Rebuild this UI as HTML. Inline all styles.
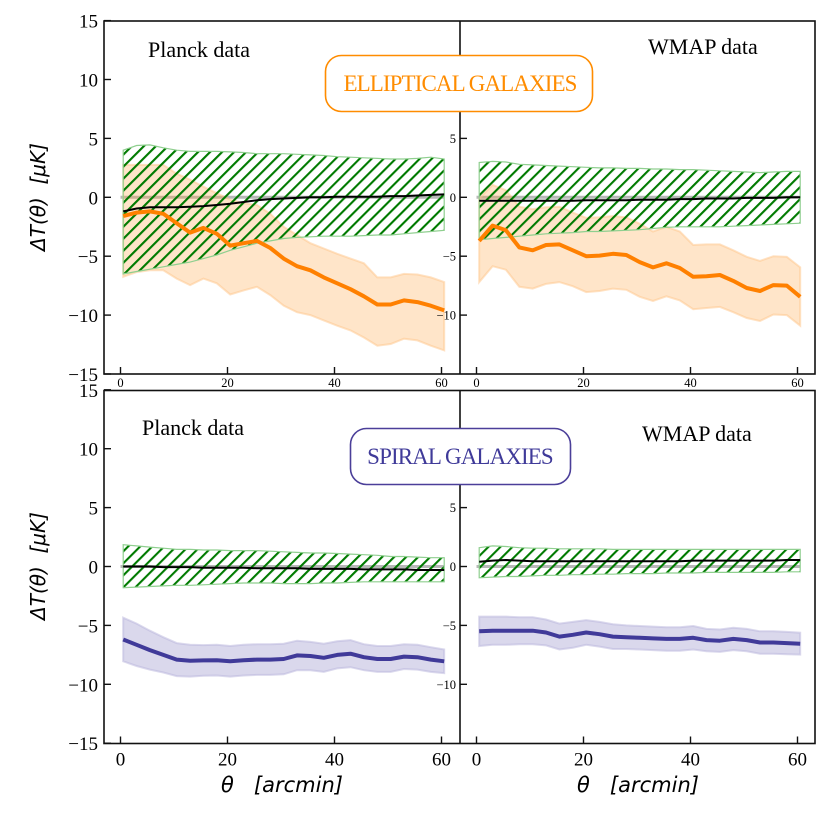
<!DOCTYPE html>
<html><head><meta charset="utf-8"><style>
html,body{margin:0;padding:0;background:#fff;}
svg{display:block;}
.serif{font-family:"Liberation Serif","DejaVu Serif",serif;}
.sans{font-family:"DejaVu Sans","Liberation Sans",sans-serif;}
</style></head><body>
<svg id="chart" width="830" height="830" viewBox="0 0 830 830" xmlns="http://www.w3.org/2000/svg">
<defs>
<pattern id="hatch" patternUnits="userSpaceOnUse" width="8.5" height="8.5" patternTransform="rotate(45)">
<line x1="1" y1="0" x2="1" y2="8.5" stroke="#007a00" stroke-width="2.2"/>
</pattern>
</defs>
<g id="plots"></g>
<rect x="104" y="21" width="711" height="353" fill="none" stroke="#111" stroke-width="1.6"/>
<rect x="104" y="390.5" width="711" height="353" fill="none" stroke="#111" stroke-width="1.6"/>
<line x1="460" y1="21" x2="460" y2="374" stroke="#111" stroke-width="1.6"/>
<line x1="460" y1="390.5" x2="460" y2="743.5" stroke="#111" stroke-width="1.6"/>
<g id="axes"></g>
<text x="148" y="57" class="serif" font-size="22">Planck data</text>
<text x="648" y="54" class="serif" font-size="22">WMAP data</text>
<text x="142" y="435" class="serif" font-size="22">Planck data</text>
<text x="642" y="441" class="serif" font-size="22">WMAP data</text>
<rect x="325.5" y="55.5" width="267" height="56" rx="16" fill="#fff" stroke="#ff8c00" stroke-width="1.6"/>
<text x="460" y="91" text-anchor="middle" class="serif" font-size="23" fill="#ff8c00" letter-spacing="-0.9">ELLIPTICAL GALAXIES</text>
<rect x="350.5" y="428.5" width="220" height="56" rx="16" fill="#fff" stroke="#4b3f99" stroke-width="1.6"/>
<text x="460" y="464" text-anchor="middle" class="serif" font-size="23" fill="#3f3a99" letter-spacing="-0.9">SPIRAL GALAXIES</text>
<text transform="translate(45,197) rotate(-90)" text-anchor="middle" class="sans" font-size="20" font-style="italic">ΔT(θ)&#160;&#160;[μK]</text>
<text transform="translate(45,566) rotate(-90)" text-anchor="middle" class="sans" font-size="20" font-style="italic">ΔT(θ)&#160;&#160;[μK]</text>
<text x="282" y="792" text-anchor="middle" class="sans" font-size="21" font-style="italic">θ&#160;&#160;&#160;[arcmin]</text>
<text x="638" y="792" text-anchor="middle" class="sans" font-size="21" font-style="italic">θ&#160;&#160;&#160;[arcmin]</text>
</svg>
<script>
const thetaIdx = [0,1,2,3,4,5,6,7,8,9,10,11,12,13,14,15,16,17,18,19,20,21,22,23,24];
const thetaStep = 2.5, thetaStart = 0.5;
const tlOrange = [-1.6,-1.3,-1.2,-1.4,-2.2,-3.0,-2.6,-3.1,-4.1,-3.9,-3.7,-4.3,-5.2,-5.85,-6.2,-6.8,-7.3,-7.8,-8.4,-9.1,-9.1,-8.75,-8.9,-9.2,-9.6];
const tlOrangeUp = [2.75,2.75,2.75,2.75,2.0,1.5,0.9,0.35,-0.2,-0.5,-0.65,-1.4,-2.5,-3.2,-3.9,-4.35,-4.8,-5.2,-5.6,-6.8,-6.8,-6.5,-6.55,-6.8,-7.2];
const tlOrangeLo = [-6.75,-6.35,-6.2,-6.2,-6.9,-7.45,-6.9,-7.3,-8.25,-7.9,-7.6,-8.3,-9.2,-9.75,-10.0,-10.45,-10.9,-11.3,-11.9,-12.6,-12.45,-12.0,-12.15,-12.6,-13.0];
const tlGreenUp = [4.0,4.4,4.45,4.2,4.0,3.9,3.9,3.9,3.85,3.8,3.7,3.7,3.7,3.65,3.6,3.55,3.45,3.4,3.35,3.3,3.25,3.25,3.3,3.4,3.25];
const tlGreenLo = [-6.5,-6.3,-6.1,-5.9,-5.7,-5.5,-5.2,-4.9,-4.5,-4.2,-3.9,-3.7,-3.5,-3.4,-3.35,-3.3,-3.3,-3.3,-3.25,-3.2,-3.2,-3.1,-3.0,-2.9,-2.8];
const tlBlack = [-1.2,-0.95,-0.85,-0.85,-0.85,-0.8,-0.75,-0.65,-0.55,-0.4,-0.25,-0.15,-0.1,-0.05,0,0,0.05,0.05,0.05,0.05,0.1,0.1,0.15,0.2,0.25];
const trOrange = [-3.7,-2.4,-2.8,-4.25,-4.5,-4.05,-4.0,-4.5,-5.0,-4.95,-4.8,-4.9,-5.5,-5.95,-5.6,-6.0,-6.75,-6.7,-6.6,-7.1,-7.7,-7.95,-7.45,-7.5,-8.45];
const trOrangeUp = [-0.1,1.05,0.6,-0.8,-1.0,-0.85,-0.8,-1.3,-1.75,-1.7,-1.6,-1.7,-2.25,-2.9,-2.5,-2.9,-4.05,-4.0,-4.0,-4.5,-5.05,-5.4,-5.0,-5.05,-5.95];
const trOrangeLo = [-7.2,-5.85,-6.15,-7.6,-7.75,-7.35,-7.2,-7.55,-8.05,-7.95,-7.75,-7.85,-8.45,-8.8,-8.4,-8.75,-9.5,-9.4,-9.3,-9.75,-10.25,-10.5,-9.95,-10.0,-10.9];
const trGreenUp = [2.95,3.05,3.0,2.8,2.75,2.7,2.65,2.6,2.55,2.5,2.5,2.45,2.45,2.4,2.4,2.35,2.35,2.3,2.25,2.2,2.15,2.1,2.15,2.2,2.2];
const trGreenLo = [-3.6,-3.5,-3.4,-3.3,-3.2,-3.1,-3.05,-3.0,-2.9,-2.9,-2.85,-2.8,-2.75,-2.65,-2.55,-2.5,-2.5,-2.5,-2.5,-2.45,-2.4,-2.35,-2.3,-2.25,-2.2];
const trBlack = [-0.3,-0.3,-0.3,-0.3,-0.3,-0.3,-0.3,-0.3,-0.25,-0.25,-0.25,-0.25,-0.2,-0.2,-0.2,-0.15,-0.15,-0.1,-0.1,-0.1,-0.05,-0.05,-0.05,0,0];
const blPurple = [-6.2,-6.65,-7.1,-7.5,-7.9,-8.0,-7.97,-7.95,-8.05,-7.95,-7.9,-7.9,-7.85,-7.55,-7.6,-7.75,-7.5,-7.4,-7.7,-7.85,-7.85,-7.65,-7.7,-7.9,-8.05];
const blPurpleErr = [1.85,1.8,1.65,1.5,1.4,1.35,1.3,1.3,1.3,1.3,1.3,1.3,1.3,1.25,1.2,1.2,1.15,1.15,1.1,1.1,1.1,1.05,1.05,1.05,1.0];
const blGreenUp = [1.85,1.75,1.65,1.55,1.45,1.45,1.4,1.4,1.35,1.35,1.35,1.3,1.25,1.2,1.15,1.15,1.1,1.05,1.0,0.95,0.85,0.85,0.8,0.75,0.75];
const blGreenLo = [-1.8,-1.75,-1.7,-1.65,-1.6,-1.6,-1.55,-1.5,-1.45,-1.4,-1.4,-1.4,-1.45,-1.45,-1.45,-1.4,-1.4,-1.35,-1.3,-1.3,-1.3,-1.3,-1.3,-1.3,-1.3];
const blBlack = [0,0,0,-0.05,-0.05,-0.05,-0.1,-0.1,-0.1,-0.1,-0.15,-0.15,-0.15,-0.15,-0.2,-0.2,-0.2,-0.2,-0.25,-0.25,-0.25,-0.25,-0.3,-0.3,-0.3];
const brPurple = [-5.5,-5.45,-5.45,-5.45,-5.45,-5.6,-5.95,-5.8,-5.6,-5.75,-5.95,-6.0,-6.05,-6.1,-6.15,-6.15,-6.05,-6.25,-6.3,-6.15,-6.25,-6.45,-6.45,-6.5,-6.55];
const brPurpleErr = [1.25,1.2,1.2,1.15,1.15,1.1,1.1,1.1,1.05,1.05,1.05,1.0,1.0,1.0,1.0,1.0,1.0,0.95,0.95,0.95,0.95,0.95,0.95,0.95,0.93];
const brGreenUp = [1.6,1.75,1.7,1.6,1.55,1.55,1.5,1.5,1.5,1.5,1.45,1.45,1.45,1.45,1.45,1.45,1.45,1.45,1.45,1.45,1.45,1.45,1.45,1.45,1.45];
const brGreenLo = [-0.95,-0.9,-0.85,-0.85,-0.8,-0.75,-0.75,-0.7,-0.7,-0.65,-0.65,-0.6,-0.6,-0.6,-0.55,-0.55,-0.55,-0.5,-0.5,-0.5,-0.5,-0.5,-0.5,-0.45,-0.45];
const brBlack = [0.4,0.5,0.55,0.5,0.45,0.45,0.45,0.45,0.45,0.45,0.45,0.45,0.45,0.45,0.45,0.45,0.5,0.5,0.5,0.5,0.5,0.5,0.5,0.55,0.55];
const xTickVals = [0,20,40,60];
const yTickVals = [15,10,5,0,-5,-10,-15];
const innerYTickVals = [5,0,-5,-10];

const NS = "http://www.w3.org/2000/svg";
const plots = document.getElementById('plots');
const axes = document.getElementById('axes');
function mk(tag, attrs, parent){const e=document.createElementNS(NS,tag);for(const k in attrs)e.setAttribute(k,attrs[k]);parent.appendChild(e);return e;}
const UX = 5.35, UY = 11.78;
function xScale(x0){return v => x0 + v*UX;}
function yScale(y0){return v => y0 - v*UY;}
const thetaOf = i => thetaStart + i*thetaStep;
function linePath(xs, ys, vals){return thetaIdx.map((i,k)=>(k?'L':'M')+xs(thetaOf(i)).toFixed(1)+','+ys(vals[i]).toFixed(1)).join('');}
function bandPath(xs, ys, up, lo){
  let d = thetaIdx.map((i,k)=>(k?'L':'M')+xs(thetaOf(i)).toFixed(1)+','+ys(up[i]).toFixed(1)).join('');
  d += thetaIdx.slice().reverse().map(i=>'L'+xs(thetaOf(i)).toFixed(1)+','+ys(lo[i]).toFixed(1)).join('');
  return d+'Z';
}
function panel(p){
  const xs = xScale(p.x0), ys = yScale(p.y0);
  const g = mk('g',{},plots);
  
  
  const z = mk('line',{x1:xs(0),x2:xs(60.5),y1:ys(0),y2:ys(0),stroke:'#888','stroke-width':3,'stroke-opacity':0.6},g);
  
  
  let up, lo;
  if (p.err){ up = p.sig.map((v,i)=>v+p.err[i]); lo = p.sig.map((v,i)=>v-p.err[i]); } else { up = p.up; lo = p.lo; }
  const sb = mk('path',{d:bandPath(xs,ys,up,lo),fill:p.bandFill,stroke:p.bandEdge,'stroke-width':2,'stroke-opacity':0.5},g);
  
  
  const gb = mk('path',{d:bandPath(xs,ys,p.gUp,p.gLo),fill:'url(#hatch)',stroke:'#8fcf8f','stroke-width':1.2},g);
  
  
  const bl = mk('path',{d:linePath(xs,ys,p.black),fill:'none',stroke:'#000','stroke-width':2},g);
  
  
  const sl = mk('path',{d:linePath(xs,ys,p.sig),fill:'none',stroke:p.lineColor,'stroke-width':4,'stroke-linejoin':'round'},g);
  
  
  xTickVals.forEach(v=>{
    const t = mk('line',{x1:xs(v),x2:xs(v),y1:p.yBottom,y2:p.yBottom-7,stroke:'#111','stroke-width':1.4},axes);
    
    
    const lab = mk('text',{x:xs(v),y:p.yBottom+(p.bigX?22:13),'text-anchor':'middle','font-size':p.bigX?19:12.5,class:'serif'},axes);
    lab.textContent = v;
    
    
  });
  const yv = p.outer ? yTickVals : innerYTickVals;
  yv.forEach(v=>{
    const t = mk('line',{x1:p.yAxisX,x2:p.yAxisX+7,y1:ys(v),y2:ys(v),stroke:'#111','stroke-width':1.4},axes);
    
    
    const lab = mk('text',{x:p.yAxisX-(p.outer?6:4),y:ys(v)+(p.outer?7:4.5),'text-anchor':'end','font-size':p.outer?19:12.5,class:'serif'},axes);
    lab.textContent = v<0 ? '\u2212'+(-v) : String(v);
    
    
  });
}
const ORF='rgba(255,160,60,0.28)', ORE='#ffc58a', PUF='rgba(70,60,160,0.2)', PUE='#b8b4dc';
panel({name:'panel-planck-elliptical',x0:120.5,y0:197.3,yBottom:374,yAxisX:104,outer:true,bigX:false,sig:tlOrange,up:tlOrangeUp,lo:tlOrangeLo,gUp:tlGreenUp,gLo:tlGreenLo,black:tlBlack,bandFill:ORF,bandEdge:ORE,lineColor:'#ff8000'});
panel({name:'panel-wmap-elliptical',x0:476.5,y0:197.3,yBottom:374,yAxisX:460,outer:false,bigX:false,sig:trOrange,up:trOrangeUp,lo:trOrangeLo,gUp:trGreenUp,gLo:trGreenLo,black:trBlack,bandFill:ORF,bandEdge:ORE,lineColor:'#ff8000'});
panel({name:'panel-planck-spiral',x0:120.5,y0:566.5,yBottom:743.5,yAxisX:104,outer:true,bigX:true,sig:blPurple,err:blPurpleErr,gUp:blGreenUp,gLo:blGreenLo,black:blBlack,bandFill:PUF,bandEdge:PUE,lineColor:'#403a99'});
panel({name:'panel-wmap-spiral',x0:476.5,y0:566.5,yBottom:743.5,yAxisX:460,outer:false,bigX:true,sig:brPurple,err:brPurpleErr,gUp:brGreenUp,gLo:brGreenLo,black:brBlack,bandFill:PUF,bandEdge:PUE,lineColor:'#403a99'});
</script>
</body></html>
